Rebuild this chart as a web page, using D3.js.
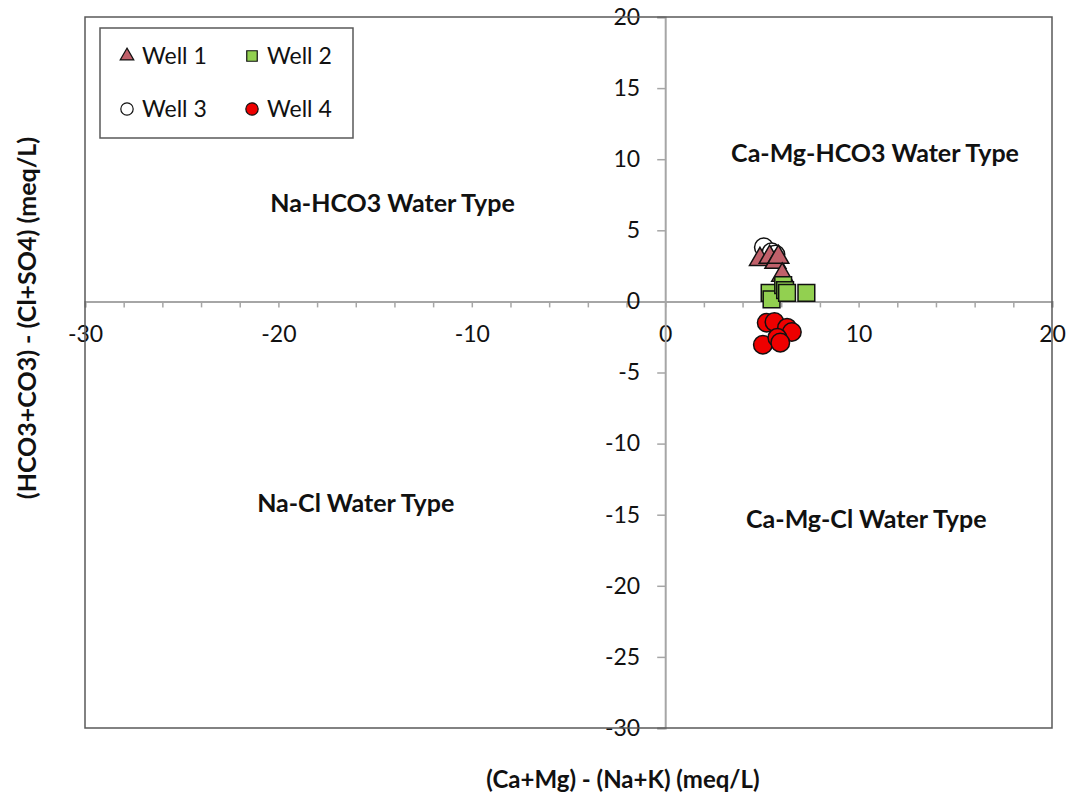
<html>
<head>
<meta charset="utf-8">
<style>
  body { margin: 0; background: #fff; }
  text { font-family: Lato, "Open Sans", sans-serif; fill: #111; }
</style>
</head>
<body>
  <svg id="svg" width="1070" height="796"></svg>

  <script src="https://cdn.jsdelivr.net/npm/d3@7/dist/d3.min.js"></script>
  <script type="text/javascript">
  // data
  let well1X = [4.9, 5.4, 5.7, 5.85, 6.05];
  let well1Y = [2.95, 3.1, 2.75, 3.1, 1.85];
  let well2X = [5.4, 5.5, 6.1, 6.2, 6.3, 7.3];
  let well2Y = [0.6, 0.15, 1.15, 0.8, 0.6, 0.6];
  let well3X = [5.1, 5.5, 5.7];
  let well3Y = [3.8, 3.45, 3.3];
  let well4X = [5.25, 5.65, 6.3, 6.55, 5.05, 5.8, 5.95];
  let well4Y = [-1.5, -1.45, -1.85, -2.15, -3.05, -2.55, -2.9];

  let xTicks = [-30, -20, -10, 0, 10, 20];
  let yTicks = [20, 15, 10, 5, 0, -5, -10, -15, -20, -25, -30];
  let seriesNames = ["Well 1", "Well 2", "Well 3", "Well 4"];
  let zoneNames = ["Na-HCO3 Water Type", "Ca-Mg-HCO3 Water Type", "Na-Cl Water Type", "Ca-Mg-Cl Water Type"];
  let zoneX = [-14.1, 10.85, -16.0, 10.4];
  let zoneY = [6.9, 10.4, -14.2, -15.3];

  let svg = d3.select("#svg");
  let L = 85, R = 1052, T = 17, B = 728;
  let x = d3.scaleLinear().domain([-30, 20]).range([L, R]);
  let y = d3.scaleLinear().domain([-30, 20]).range([B, T]);
  let fmt = d => String(d);

  // axes through origin
  let xa = svg.append("g").attr("transform", "translate(0," + y(0) + ")")
    .call(d3.axisBottom(x).tickValues(d3.range(-30, 21, 2)).tickSize(6).tickFormat(""));
  xa.select(".domain").attr("stroke", "#a6a6a6").attr("stroke-width", 2);
  xa.selectAll(".tick line").attr("stroke", "#a6a6a6").attr("stroke-width", 1.5);

  let xl = svg.append("g").attr("transform", "translate(0," + y(0) + ")")
    .call(d3.axisBottom(x).tickValues(xTicks).tickFormat(fmt).tickSize(0).tickPadding(24));
  xl.select(".domain").remove();
  xl.selectAll("text").style("font-size", "23px").style("font-family", "Lato, sans-serif").attr("fill", "#111");

  let ya = svg.append("g").attr("transform", "translate(" + x(0) + ",0)")
    .call(d3.axisLeft(y).tickValues(yTicks).tickFormat(fmt).tickSize(8).tickPadding(17));
  ya.select(".domain").attr("stroke", "#a6a6a6").attr("stroke-width", 2);
  ya.selectAll(".tick line").attr("stroke", "#a6a6a6").attr("stroke-width", 1.5);
  ya.selectAll("text").style("font-size", "23px").style("font-family", "Lato, sans-serif").attr("fill", "#111");

  // frame
  svg.append("rect").attr("x", L).attr("y", T).attr("width", R - L).attr("height", B - T)
    .attr("fill", "none").attr("stroke", "#595959").attr("stroke-width", 1.5);

  // zone labels
  svg.selectAll("text.zone").data(zoneNames).enter().append("text")
    .attr("class", "zone")
    .attr("x", (d, i) => x(zoneX[i])).attr("y", (d, i) => y(zoneY[i]))
    .attr("text-anchor", "middle").attr("dy", "0.35em")
    .style("font-size", "25px").style("font-weight", "bold")
    .text(d => d);

  // markers
  let tri = d3.symbol().type(d3.symbolTriangle).size(190);
  let sq = d3.symbol().type(d3.symbolSquare).size(280);
  let circ = d3.symbol().type(d3.symbolCircle).size(270);

  function pts(xs, ys) { return xs.map((v, i) => [v, ys[i]]); }
  function drawSeries(data, sym, fill) {
    svg.append("g").selectAll("path").data(data).enter().append("path")
      .attr("d", sym)
      .attr("transform", d => "translate(" + x(d[0]) + "," + y(d[1]) + ")")
      .attr("fill", fill).attr("stroke", "#111").attr("stroke-width", 1.5);
  }
  drawSeries(pts(well3X, well3Y), circ, "#fff");
  drawSeries(pts(well1X, well1Y), tri, "#c0606a");
  drawSeries(pts(well2X, well2Y), sq, "#92d050");
  drawSeries(pts(well4X, well4Y), circ, "#ee0000");

  // legend
  let lg = svg.append("g");
  lg.append("rect").attr("x", 100).attr("y", 28).attr("width", 253).attr("height", 110)
    .attr("fill", "#fff").attr("stroke", "#595959").attr("stroke-width", 1.5);
  let legSym = [d3.symbol().type(d3.symbolTriangle).size(80), d3.symbol().type(d3.symbolSquare).size(110),
    d3.symbol().type(d3.symbolCircle).size(120), d3.symbol().type(d3.symbolCircle).size(120)];
  let legFill = ["#c0606a", "#92d050", "#fff", "#ee0000"];
  let legX = [127, 252, 127, 252];
  let legY = [56, 56, 109, 109];
  seriesNames.forEach((n, i) => {
    lg.append("path").attr("d", legSym[i])
      .attr("transform", "translate(" + legX[i] + "," + legY[i] + ")")
      .attr("fill", legFill[i]).attr("stroke", "#111").attr("stroke-width", 1.2);
    lg.append("text").attr("x", legX[i] + 15).attr("y", legY[i]).attr("dy", "0.36em")
      .style("font-size", "23px").text(n);
  });

  // axis titles
  svg.append("text").attr("x", 623).attr("y", 780).attr("text-anchor", "middle").attr("dy", "0.35em")
    .style("font-size", "24px").style("font-weight", "bold")
    .text("(Ca+Mg) - (Na+K) (meq/L)");
  svg.append("text").attr("transform", "translate(27,318) rotate(-90)").attr("text-anchor", "middle").attr("dy", "0.35em")
    .style("font-size", "25px").style("font-weight", "bold")
    .text("(HCO3+CO3) - (Cl+SO4) (meq/L)");
  </script>
</body>
</html>
